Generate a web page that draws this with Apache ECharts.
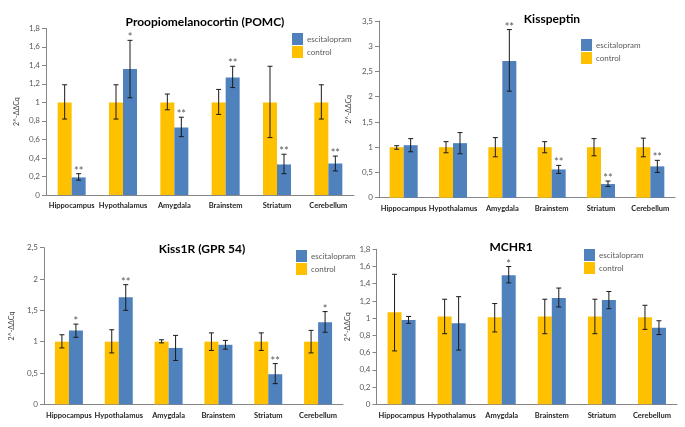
<!DOCTYPE html>
<html>
<head>
<meta charset="utf-8">
<script src="https://cdn.jsdelivr.net/npm/echarts@6/dist/echarts.min.js"></script>
<style>html,body{margin:0;padding:0;background:#fff;}#c{width:685px;height:427px;}</style>
</head>
<body>
<div id="c"></div>
<script>
const categories = ['Hippocampus','Hypothalamus','Amygdala','Brainstem','Striatum','Cerebellum'];

// POMC
const pomcControl = [1, 1, 1, 1, 1, 1];
const pomcControlErr = [[0.82,1.19],[0.82,1.19],[0.92,1.09],[0.87,1.14],[0.62,1.39],[0.82,1.19]];
const pomcEsc = [0.19, 1.36, 0.73, 1.27, 0.33, 0.34];
const pomcEscErr = [[0.16,0.23],[1.05,1.67],[0.63,0.84],[1.16,1.39],[0.23,0.44],[0.26,0.42]];
const pomcStars = ['**','*','**','**','**','**'];

// Kisspeptin
const kissControl = [1, 1, 1, 1, 1, 1];
const kissControlErr = [[0.96,1.03],[0.89,1.11],[0.81,1.19],[0.89,1.11],[0.83,1.17],[0.81,1.18]];
const kissEsc = [1.04, 1.08, 2.71, 0.56, 0.27, 0.62];
const kissEscErr = [[0.91,1.17],[0.87,1.29],[2.11,3.33],[0.48,0.64],[0.22,0.33],[0.50,0.74]];
const kissStars = ['','','**','**','**','**'];

// Kiss1R (GPR 54)
const k1rControl = [1, 1, 1, 1, 1, 1];
const k1rControlErr = [[0.90,1.11],[0.82,1.19],[0.98,1.03],[0.86,1.14],[0.86,1.14],[0.82,1.18]];
const k1rEsc = [1.18, 1.71, 0.90, 0.95, 0.48, 1.31];
const k1rEscErr = [[1.07,1.28],[1.50,1.91],[0.70,1.10],[0.88,1.02],[0.33,0.65],[1.15,1.48]];
const k1rStars = ['*','**','','','**','*'];

// MCHR1
const mchControl = [1.07, 1.02, 1.01, 1.02, 1.02, 1.01];
const mchControlErr = [[0.62,1.51],[0.82,1.22],[0.84,1.17],[0.82,1.22],[0.82,1.22],[0.87,1.15]];
const mchEsc = [0.98, 0.94, 1.50, 1.235, 1.21, 0.89];
const mchEscErr = [[0.94,1.02],[0.63,1.25],[1.41,1.60],[1.13,1.35],[1.11,1.31],[0.81,0.97]];
const mchStars = ['','','*','','',''];

const titles = ['Proopiomelanocortin (POMC)','Kisspeptin','Kiss1R (GPR 54)','MCHR1'];
const yMax = [1.8, 3.5, 2.5, 1.8];
const yInterval = [0.2, 0.5, 0.5, 0.2];
const yName = '2^-ΔΔCq';

const panels = [
  {c: pomcControl, ce: pomcControlErr, e: pomcEsc, ee: pomcEscErr, s: pomcStars},
  {c: kissControl, ce: kissControlErr, e: kissEsc, ee: kissEscErr, s: kissStars},
  {c: k1rControl, ce: k1rControlErr, e: k1rEsc, ee: k1rEscErr, s: k1rStars},
  {c: mchControl, ce: mchControlErr, e: mchEsc, ee: mchEscErr, s: mchStars}
];

// layout
const grids = [
  {left: 46, top: 28.3, width: 308, height: 166.7},
  {left: 379, top: 21, width: 296, height: 176.7},
  {left: 44, top: 247.7, width: 299, height: 156.6},
  {left: 376.5, top: 249.3, width: 300.5, height: 155}
];
const titlePos = [{x: 200, y: 11}, {x: 547, y: 8}, {x: 197, y: 238}, {x: 506, y: 236}];
const legendPos = [{x: 292, y: 33}, {x: 581, y: 39}, {x: 296, y: 250}, {x: 584, y: 249}];
const nameGaps = [26, 27, 29, 25.5];
const BW = 14;
const FONT = 'Lato, "Open Sans", sans-serif';
const ORANGE = '#FFC000';
const BLUE = '#4F81BD';

function fmt(v) { return String(Math.round(v * 10) / 10).replace('.', ','); }

function errRender(sign, stars) {
  return function (params, api) {
    const ci = api.value(0);
    const cx = api.coord([ci, 0])[0] + sign * BW / 2;
    const yl = api.coord([ci, api.value(1)])[1];
    const yh = api.coord([ci, api.value(2)])[1];
    const st = {stroke: '#1a1a1a', lineWidth: 1};
    const children = [
      {type: 'line', shape: {x1: cx, y1: yh, x2: cx, y2: yl}, style: st},
      {type: 'line', shape: {x1: cx - 2.5, y1: yh, x2: cx + 2.5, y2: yh}, style: st},
      {type: 'line', shape: {x1: cx - 2.5, y1: yl, x2: cx + 2.5, y2: yl}, style: st}
    ];
    const s = stars[params.dataIndex];
    if (s) {
      children.push({type: 'text', style: {text: s, x: cx, y: yh + 3, textAlign: 'center', textVerticalAlign: 'bottom', fill: '#595959', font: '11px ' + FONT}});
    }
    return {type: 'group', children: children};
  };
}

const option = {
  animation: false,
  backgroundColor: '#ffffff',
  title: titles.map((t, i) => ({
    text: t, left: titlePos[i].x, top: titlePos[i].y, textAlign: 'center',
    textStyle: {fontFamily: FONT, fontSize: 12, fontWeight: 'bold', color: '#000'}
  })),
  legend: legendPos.map((p) => ({
    data: ['escitalopram', 'control'], orient: 'vertical', left: p.x, top: p.y,
    icon: 'rect', itemWidth: 11, itemHeight: 12, itemGap: 1, padding: 0,
    textStyle: {fontFamily: FONT, fontSize: 8, color: '#595959', padding: [0, 0, 0, -1]},
    selectedMode: false
  })),
  grid: grids,
  xAxis: grids.map((g, i) => ({
    type: 'category', gridIndex: i, data: categories,
    axisLine: {lineStyle: {color: '#868686'}},
    axisTick: {length: 4, lineStyle: {color: '#868686'}},
    axisLabel: {interval: 0, fontFamily: FONT, fontSize: 7.5, fontWeight: 'bold', color: '#262626', margin: 7}
  })),
  yAxis: grids.map((g, i) => ({
    type: 'value', gridIndex: i, min: 0, max: yMax[i], interval: yInterval[i],
    name: yName, nameLocation: 'middle', nameRotate: 90, nameGap: nameGaps[i],
    nameTextStyle: {fontFamily: FONT, fontSize: 7, color: '#404040'},
    axisLine: {show: true, lineStyle: {color: '#868686'}},
    axisTick: {show: true, length: 4, lineStyle: {color: '#868686'}},
    splitLine: {show: false},
    axisLabel: {formatter: fmt, fontFamily: FONT, fontSize: 8, color: '#595959', margin: 6}
  })),
  series: []
};

panels.forEach((p, i) => {
  option.series.push({
    name: 'control', type: 'bar', xAxisIndex: i, yAxisIndex: i, data: p.c,
    barWidth: BW, barGap: '0%', itemStyle: {color: ORANGE}, z: 2
  });
  option.series.push({
    name: 'escitalopram', type: 'bar', xAxisIndex: i, yAxisIndex: i, data: p.e,
    barWidth: BW, barGap: '0%', itemStyle: {color: BLUE}, z: 2
  });
  option.series.push({
    name: 'control-err', type: 'custom', xAxisIndex: i, yAxisIndex: i,
    data: p.ce.map((r, k) => [k, r[0], r[1]]), renderItem: errRender(-1, p.c.map(() => '')), z: 5, silent: true
  });
  option.series.push({
    name: 'esc-err', type: 'custom', xAxisIndex: i, yAxisIndex: i,
    data: p.ee.map((r, k) => [k, r[0], r[1]]), renderItem: errRender(1, p.s), z: 5, silent: true
  });
});

const chart = echarts.init(document.getElementById('c'), null, {renderer: 'canvas'});
chart.setOption(option);
</script>
</body>
</html>
